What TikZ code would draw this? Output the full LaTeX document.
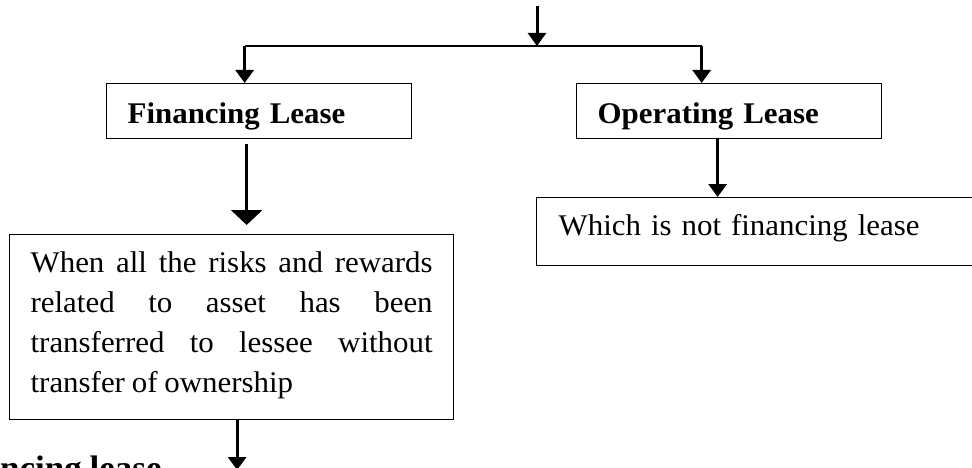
\documentclass[tikz,border=0pt]{standalone}
\usepackage{fontspec}
\setmainfont{Liberation Serif}[FakeStretch=1.03,WordSpace=0.88]
\usetikzlibrary{arrows.meta}
\tikzset{
  box/.style={draw, line width=1.3pt, inner ysep=0pt, align=left,
    font=\fontsize{30}{40}\selectfont},
  arr/.style={line width=3pt, -{Triangle[width=18pt,length=13pt]}},
  bigarr/.style={line width=3pt, -{Triangle[width=31pt,length=15pt]}},
  barline/.style={line width=2.5pt},
}
\begin{document}
\begin{tikzpicture}[x=1pt,y=-1pt]
\useasboundingbox (0,0) rectangle (972,468);
\fill[white] (0,0) rectangle (972,468);
\clip (0,0) rectangle (972,468);

\node[box, font=\bfseries\fontsize{30}{40}\selectfont, anchor=north west, text width=263pt, inner xsep=21pt,
  text height=40pt, text depth=15pt] (fin) at (106,83) {Financing Lease};
\node[box, font=\bfseries\fontsize{30}{40}\selectfont, anchor=north west, text width=263pt, inner xsep=21pt,
  text height=40pt, text depth=15pt] (op) at (576,83) {Operating Lease};
\node[box, anchor=north west, text width=406pt, inner xsep=22pt,
  text height=38pt, text depth=30pt] (which) at (536,197) {Which is not financing lease};
\node[box, anchor=north west, text width=402pt, inner xsep=21pt, align=justify,
  text height=38pt, text depth=147pt] (big) at (9,234)
  {\tolerance=10000\relax\hyphenpenalty=10000\relax When all the risks and rewards\linebreak related to asset has been\linebreak transferred to lessee without\linebreak transfer of ownership};

\node[font=\bfseries\fontsize{34}{40}\selectfont, anchor=base west, inner sep=0pt] (head) at (0,479) {ncing lease};

\coordinate (src) at (537,6);
\coordinate (junc) at (537,46);
\coordinate (finin) at ([xshift=-14.5pt]fin.north);
\coordinate (opin) at ([xshift=-27.5pt]op.north);
\draw[arr] (src) -- (junc);
\draw[barline] (finin |- junc) -- (opin |- junc);
\draw[arr] (finin |- junc) -- (finin);
\draw[arr] (opin |- junc) -- (opin);

\coordinate (fo) at ([xshift=-12.5pt,yshift=-5pt]fin.south);
\draw[bigarr, shorten >=9pt] (fo) -- (fo |- big.north);

\coordinate (oo) at ([xshift=-11.5pt]op.south);
\draw[arr] (oo) -- (oo |- which.north);

\coordinate (bo) at ([xshift=5.5pt]big.south);
\coordinate (bend) at (236,470);
\draw[arr] (bo) -- (bo |- bend);
\end{tikzpicture}
\end{document}
